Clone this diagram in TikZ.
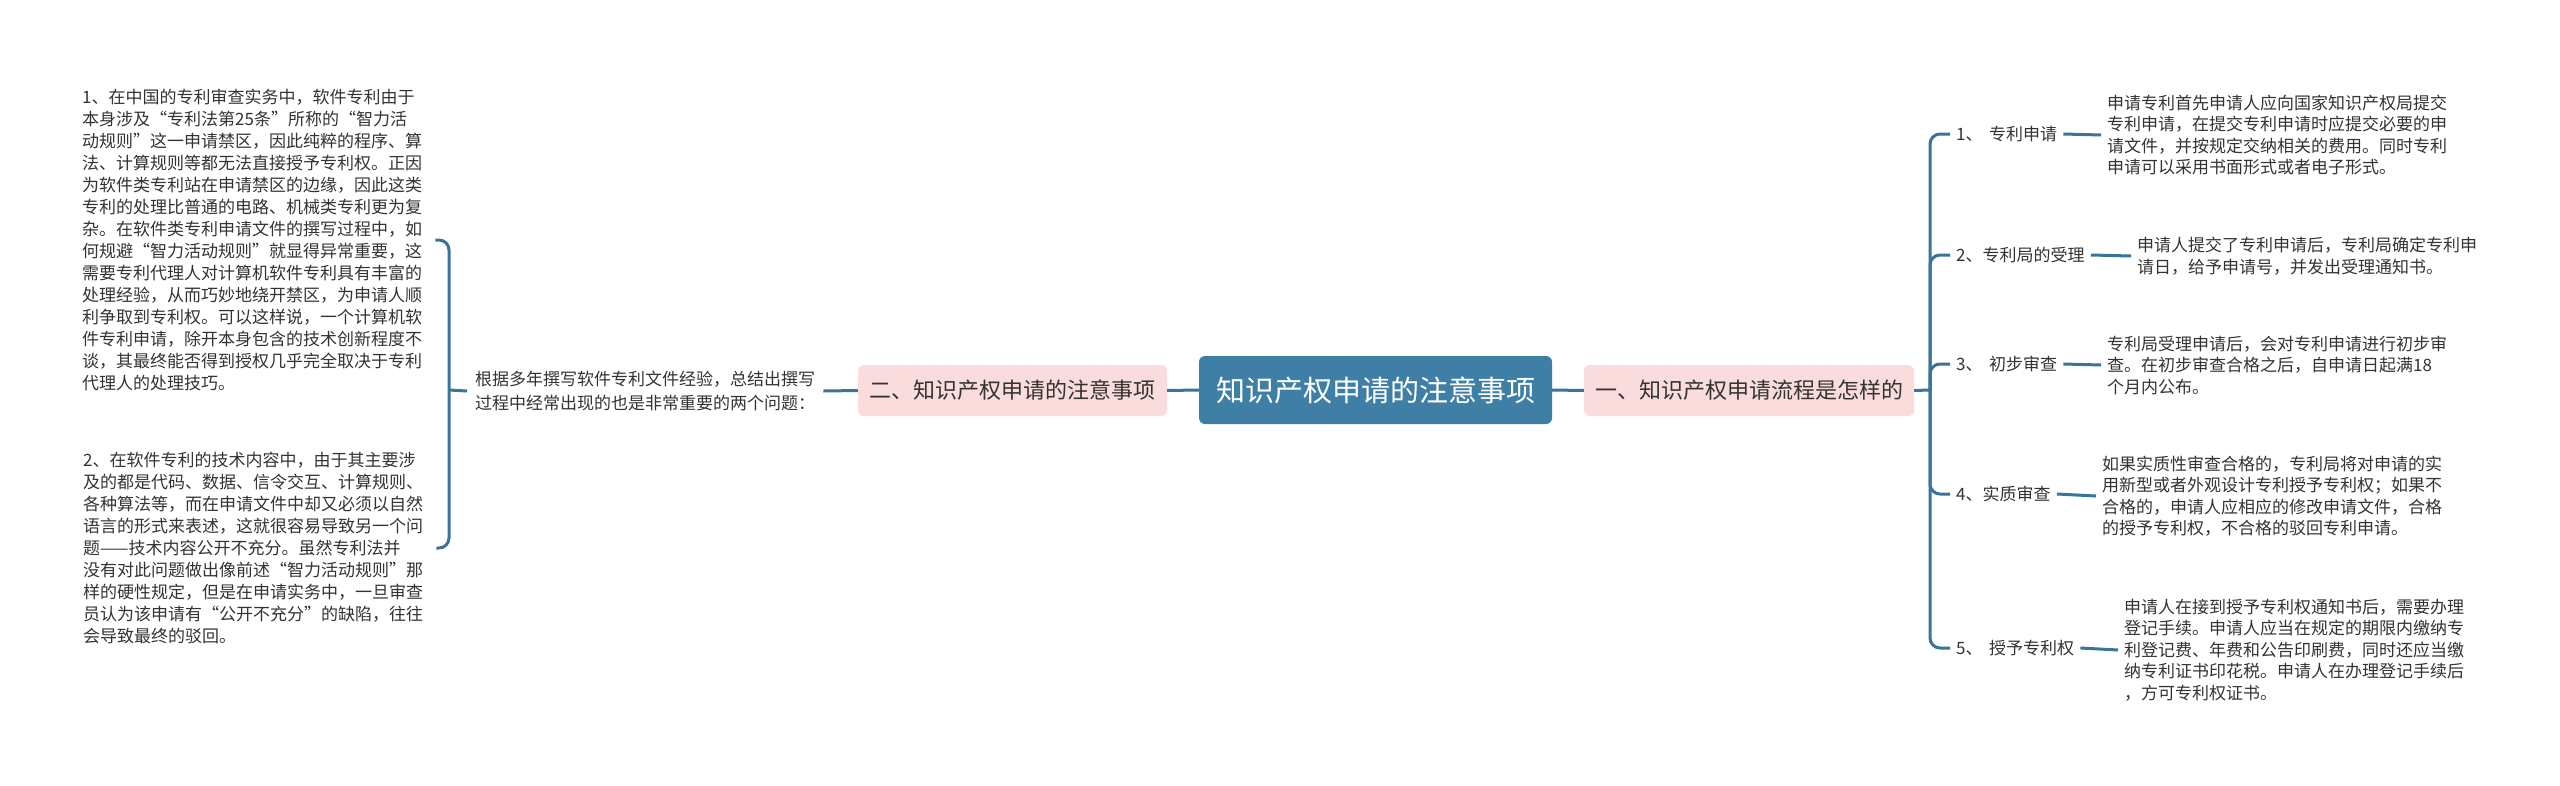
\documentclass[tikz,border=0pt]{standalone}
\usepackage{fontspec}
\setmainfont{Noto Sans CJK SC}
\definecolor{linec}{HTML}{3A7499}
\definecolor{rootc}{HTML}{3F7FA6}
\definecolor{pinkc}{HTML}{FADCDC}
\definecolor{txtc}{HTML}{333333}
\begin{document}
\begin{tikzpicture}[x=1pt,y=-1pt,
  conn/.style={draw=linec, line width=3pt},
  bracket/.style={draw=linec, line width=3pt, rounded corners=10pt},
  root/.style={fill=rootc, rounded corners=6pt, text=white, font=\fontsize{29}{34}\selectfont, minimum width=353pt, minimum height=68pt, inner sep=0pt},
  topic/.style={fill=pinkc, rounded corners=6pt, text=txtc, font=\fontsize{22}{26}\selectfont, minimum height=51pt, inner sep=0pt},
  ltext/.style={text=txtc, font=\fontsize{17}{22}\selectfont, align=left, anchor=west, inner xsep=7pt, inner ysep=0pt},
  lbl/.style={text=txtc, font=\fontsize{17}{20}\selectfont, anchor=west, inner xsep=6pt, inner ysep=0pt},
  rdesc/.style={text=txtc, font=\fontsize{17}{21.5}\selectfont, align=left, anchor=west, inner xsep=6pt, inner ysep=0pt}]

\useasboundingbox (0,0) rectangle (2560,785);
\fill[white] (0,0) rectangle (2560,785);

% central and main topics
\node[root] (root) at (1375.5,390) {知识产权申请的注意事项};
\node[topic, minimum width=330pt] (r) at (1749,390.5) {一、知识产权申请流程是怎样的};
\node[topic, minimum width=309pt] (l) at (1012.5,390.5) {二、知识产权申请的注意事项};

\draw[conn] (root.west) -- (l.east);
\draw[conn] (root.east) -- (r.west);

% left branch
\node[ltext, font=\fontsize{17}{24}\selectfont, inner xsep=8pt] (intro) at (467,391) {根据多年撰写软件专利文件经验，总结出撰写\\过程中经常出现的也是非常重要的两个问题：};
\draw[conn] (l.west) -- (intro.east);

\node[ltext, text width=346pt] (t1) at (75,240) {1、在中国的专利审查实务中，软件专利由于\\本身涉及“专利法第25条”所称的“智力活\\动规则”这一申请禁区，因此纯粹的程序、算\\法、计算规则等都无法直接授予专利权。正因\\为软件类专利站在申请禁区的边缘，因此这类\\专利的处理比普通的电路、机械类专利更为复\\杂。在软件类专利申请文件的撰写过程中，如\\何规避“智力活动规则”就显得异常重要，这\\需要专利代理人对计算机软件专利具有丰富的\\处理经验，从而巧妙地绕开禁区，为申请人顺\\利争取到专利权。可以这样说，一个计算机软\\件专利申请，除开本身包含的技术创新程度不\\谈，其最终能否得到授权几乎完全取决于专利\\代理人的处理技巧。};

\node[ltext, text width=346pt] (t2) at (76,548) {2、在软件专利的技术内容中，由于其主要涉\\及的都是代码、数据、信令交互、计算规则、\\各种算法等，而在申请文件中却又必须以自然\\语言的形式来表述，这就很容易导致另一个问\\题——技术内容公开不充分。虽然专利法并\\没有对此问题做出像前述“智力活动规则”那\\样的硬性规定，但是在申请实务中，一旦审查\\员认为该申请有“公开不充分”的缺陷，往往\\会导致最终的驳回。};

\coordinate (lj) at (449,390);
\draw[conn] (intro.west) -- (lj);
\draw[bracket] (lj) |- (t1.east);
\draw[bracket] (lj) |- (t2.east);

% right branch
\coordinate (rj) at (1930,390);
\draw[conn] (r.east) -- (rj);

\node[lbl] (a1) at (1950,134) {1、\hspace{6.5pt}专利申请};
\node[lbl] (a2) at (1950,255) {2、专利局的受理};
\node[lbl] (a3) at (1950,364) {3、\hspace{6.5pt}初步审查};
\node[lbl] (a4) at (1950,494) {4、实质审查};
\node[lbl] (a5) at (1950,648) {5、\hspace{6.5pt}授予专利权};

\node[rdesc] (d1) at (2101,135) {申请专利首先申请人应向国家知识产权局提交\\专利申请，在提交专利申请时应提交必要的申\\请文件，并按规定交纳相关的费用。同时专利\\申请可以采用书面形式或者电子形式。};
\node[rdesc] (d2) at (2131,256) {申请人提交了专利申请后，专利局确定专利申\\请日，给予申请号，并发出受理通知书。};
\node[rdesc] (d3) at (2101,365) {专利局受理申请后，会对专利申请进行初步审\\查。在初步审查合格之后，自申请日起满18\\个月内公布。};
\node[rdesc] (d4) at (2096,496) {如果实质性审查合格的，专利局将对申请的实\\用新型或者外观设计专利授予专利权；如果不\\合格的，申请人应相应的修改申请文件，合格\\的授予专利权，不合格的驳回专利申请。};
\node[rdesc] (d5) at (2118,650) {申请人在接到授予专利权通知书后，需要办理\\登记手续。申请人应当在规定的期限内缴纳专\\利登记费、年费和公告印刷费，同时还应当缴\\纳专利证书印花税。申请人在办理登记手续后\\，方可专利权证书。};

\foreach \i in {1,...,5} {
  \draw[bracket] (rj) |- (a\i.west);
  \draw[conn] (a\i.east) -- (d\i.west);
}
\end{tikzpicture}
\end{document}
